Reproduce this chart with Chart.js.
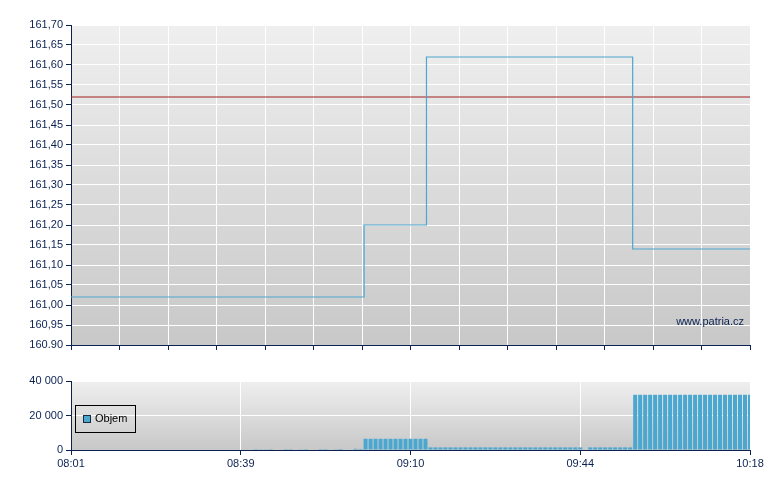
<!DOCTYPE html>
<html>
<head>
<meta charset="utf-8">
<script src="https://cdn.jsdelivr.net/npm/chart.js@4.4.0/dist/chart.umd.min.js"></script>
<style>
    body { margin: 0; background: #fff; width: 780px; height: 490px; position: relative; overflow: hidden; font-family: "Liberation Sans", Arial, sans-serif; }
    #wrap-top { position: absolute; left: 0; top: 0; width: 780px; height: 365px; }
    #wrap-bot { position: absolute; left: 0; top: 365px; width: 780px; height: 125px; }
    #watermark { position: absolute; right: 36px; top: 315px; font-size: 11px; color: #0b2152; }
    #legend { position: absolute; left: 75px; top: 405px; width: 59px; height: 26px; border: 1px solid #000; }
    #legend .swatch { position: absolute; left: 7px; top: 9px; width: 6px; height: 6px; background: #49a7d0; border: 1px solid #1a2a40; }
    #legend .label { position: absolute; left: 19px; top: 6px; font-size: 11px; color: #000; }
</style>
</head>
<body>
<div id="wrap-top"><canvas id="priceChart" width="780" height="365"></canvas></div>
<div id="wrap-bot"><canvas id="volChart" width="780" height="125"></canvas></div>
<div id="watermark">www.patria.cz</div>
<div id="legend"><div class="swatch"></div><div class="label">Objem</div></div>

<script>
// Data (x = trade index, 0..136)
const idxMin = 0;
const idxMax = 136;

// price steps: index where each level starts
const priceIdx = [0, 58.7, 71.2, 112.5, 136];
const priceVal = [161.02, 161.20, 161.62, 161.14, 161.14];
const refPrice = 161.52;

const priceTickVals = [160.90, 160.95, 161.00, 161.05, 161.10, 161.15, 161.20, 161.25, 161.30,
                       161.35, 161.40, 161.45, 161.50, 161.55, 161.60, 161.65, 161.70];
const priceTickLabels = ['160.90', '160,95', '161,00', '161,05', '161,10', '161,15', '161,20', '161,25', '161,30',
                         '161,35', '161,40', '161,45', '161,50', '161,55', '161,60', '161,65', '161,70'];

// volume per index
const volume = [
    0, 0, 0, 0, 0, 300, 0, 0, 0, 0,
    0, 0, 0, 0, 300, 0, 0, 300, 0, 0,
    0, 0, 0, 0, 0, 300, 0, 0, 0, 0,
    0, 0, 0, 0, 0, 0, 0, 500, 400, 400,
    500, 0, 0, 500, 500, 0, 400, 500, 0, 0,
    500, 500, 0, 400, 600, 0, 0, 700, 600, 6500,
    6500, 6500, 6500, 6500, 6500, 6500, 6500, 6500, 6500, 6500,
    6500, 6500, 1500, 1500, 1500, 1500, 1500, 1500, 1500, 1500,
    1500, 1500, 1500, 1500, 1500, 1500, 1500, 1500, 1500, 1500,
    1500, 1500, 1500, 1500, 1500, 1500, 1500, 1500, 1500, 1500,
    1500, 1500, 1500, 0, 1500, 1500, 1500, 1500, 1500, 1500,
    1500, 1500, 1500, 32000, 32000, 32000, 32000, 32000, 32000, 32000,
    32000, 32000, 32000, 32000, 32000, 32000, 32000, 32000, 32000, 32000,
    32000, 32000, 32000, 32000, 32000, 32000, 32000
];
const volTickVals = [0, 20000, 40000];
const volTickLabels = ['0', '20 000', '40 000'];

const timeTickIdx = [0, 34, 68, 102, 136];
const timeLabels = ['08:01', '08:39', '09:10', '09:44', '10:18'];

// vertical grid in price panel: 14 equal slots
const priceGridCount = 14;

// Styles
const NAVY = '#0b2152';
Chart.defaults.font.family = '"Liberation Sans", Arial, sans-serif';
Chart.defaults.font.size = 11;
Chart.defaults.color = NAVY;

// gray gradient behind plot area
const bgPlugin = {
    id: 'bg',
    beforeDraw(chart) {
        const { ctx, chartArea: a } = chart;
        const g = ctx.createLinearGradient(0, a.top, 0, a.bottom);
        g.addColorStop(0, '#efefef');
        g.addColorStop(1, '#c8c8c8');
        ctx.save();
        ctx.fillStyle = g;
        ctx.fillRect(a.left, a.top, a.right - a.left, a.bottom - a.top);
        ctx.restore();
    }
};

// Price panel
new Chart(document.getElementById('priceChart'), {
    type: 'line',
    data: {
        datasets: [
            {
                data: priceIdx.map((x, i) => ({ x, y: priceVal[i] })),
                borderColor: '#4ea6cf', borderWidth: 1.2, stepped: true, pointRadius: 0, fill: false
            },
            {
                data: [{ x: idxMin, y: refPrice }, { x: idxMax, y: refPrice }],
                borderColor: '#a01c1c', borderWidth: 1, pointRadius: 0, fill: false
            }
        ]
    },
    options: {
        responsive: false, animation: false, events: [],
        layout: { padding: { top: 25, right: 30, left: 0, bottom: 0 } },
        plugins: { legend: { display: false }, tooltip: { enabled: false } },
        scales: {
            x: {
                type: 'linear', min: idxMin, max: idxMax,
                afterBuildTicks(s) {
                    const t = [];
                    for (let i = 0; i <= priceGridCount; i++) t.push({ value: idxMin + i * (idxMax - idxMin) / priceGridCount });
                    s.ticks = t;
                },
                afterFit(s) { s.height = 20; },
                ticks: { display: false },
                grid: { color: '#fff', tickColor: NAVY, tickLength: 5 },
                border: { color: NAVY, width: 1 }
            },
            y: {
                min: 160.9, max: 161.7,
                afterBuildTicks(s) { s.ticks = priceTickVals.map(v => ({ value: v })); },
                afterFit(s) { s.width = 71; },
                ticks: { padding: 3, autoSkip: false, callback: (v, i) => priceTickLabels[i] },
                grid: { color: '#fff', tickColor: NAVY, tickLength: 5 },
                border: { color: NAVY, width: 1 }
            }
        }
    },
    plugins: [bgPlugin]
});

// Volume panel
new Chart(document.getElementById('volChart'), {
    type: 'bar',
    data: {
        datasets: [{
            data: volume.map((v, i) => ({ x: i, y: v })),
            backgroundColor: '#49a7d0', borderWidth: 0,
            barPercentage: 0.8, categoryPercentage: 1, clip: 0
        }]
    },
    options: {
        responsive: false, animation: false, events: [],
        layout: { padding: { top: 16, right: 30, left: 0, bottom: 0 } },
        plugins: { legend: { display: false }, tooltip: { enabled: false } },
        scales: {
            x: {
                type: 'linear', min: idxMin, max: idxMax, offset: false,
                afterBuildTicks(s) { s.ticks = timeTickIdx.map(v => ({ value: v })); },
                afterFit(s) { s.height = 40; },
                ticks: { autoSkip: false, maxRotation: 0, padding: 2, callback: (v, i) => timeLabels[i] },
                grid: { color: '#fff', tickColor: NAVY, tickLength: 5, offset: false },
                border: { color: NAVY, width: 1 }
            },
            y: {
                min: 0, max: 40000,
                afterBuildTicks(s) { s.ticks = volTickVals.map(v => ({ value: v })); },
                afterFit(s) { s.width = 71; },
                ticks: { padding: 3, callback: (v, i) => volTickLabels[i] },
                grid: { color: '#fff', tickColor: NAVY, tickLength: 5 },
                border: { color: NAVY, width: 1 }
            }
        }
    },
    plugins: [bgPlugin]
});
</script>
</body>
</html>
